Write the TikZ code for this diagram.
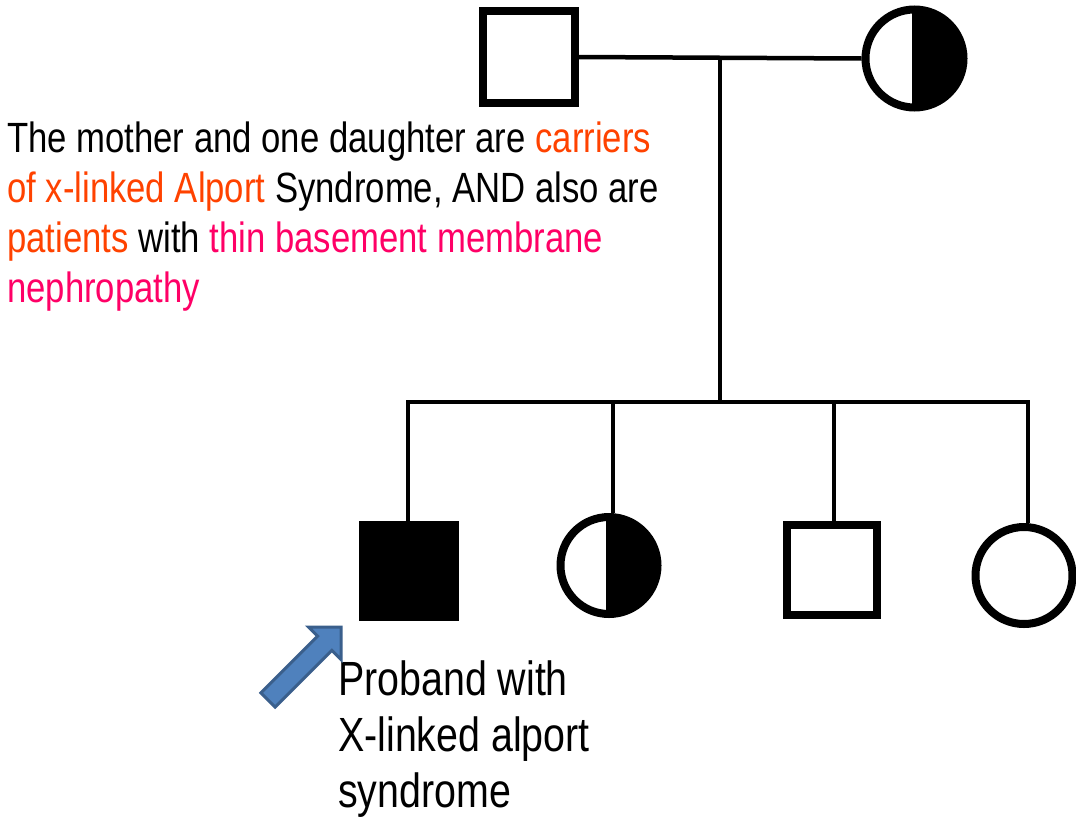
\documentclass[tikz,border=0pt]{standalone}
\usepackage{fontspec}
\setmainfont{Liberation Sans}[FakeStretch=0.82]
\usetikzlibrary{calc}

\definecolor{carrierred}{HTML}{FF4200}
\definecolor{tbmpink}{HTML}{FF0066}
\definecolor{arrowfill}{HTML}{4F81BD}
\definecolor{arrowedge}{HTML}{3A5F8C}

\begin{document}
\begin{tikzpicture}[x=1pt,y=-1pt,
  male/.style={rectangle, draw, line width=8pt, minimum size=#1, inner sep=0pt},
  female/.style={circle, draw, line width=8pt, minimum size=#1, inner sep=0pt},
  affected/.style={fill=black},
  carrier/.style={path picture={\fill ([xshift=-3pt]path picture bounding box.north)
      rectangle (path picture bounding box.south east);}},
  link/.style={line width=4.5pt, line join=miter},
  note/.style={anchor=base west, inner sep=0pt, font=\fontsize{42.3}{50}\selectfont},
  probandnote/.style={anchor=base west, inner sep=0pt, font=\fontsize{48}{56}\selectfont},
  blockarrow/.style={fill=arrowfill, draw=arrowedge, line width=3pt, line join=miter}]

\useasboundingbox (0,0) rectangle (1076,822);

% parents
\node[male=92pt] (father) at (528.5,57) {};
\node[female=98pt, carrier] (mother) at (914.5,58.5) {};

% children
\node[male=92pt, affected] (son1) at (409,571) {};
\node[female=97pt, carrier] (daughter1) at (609,565.5) {};
\node[male=90pt] (son2) at (832,569.5) {};
\node[female=97pt] (daughter2) at (1024,575.5) {};

% marriage line and line of descent
\draw[link] (father.east) -- (mother.west);
\coordinate (couple) at ($(father.east)!(720,59)!(mother.west)$);
\coordinate (sibs) at (couple |- 0,402);
\draw[link] (couple) -- (sibs);

% sibship line with drops to each child
\coordinate (s1) at (408,402);
\coordinate (s2) at (613,402);
\coordinate (s3) at (834,402);
\coordinate (s4) at (1028,402);
\draw[link] (s1 |- son1.north) -- (s1) -- (s4) -- (s4 |- daughter2.north);
\draw[link] (s2) -- (s2 |- daughter1.north);
\draw[link] (s3) -- (s3 |- son2.north);

% explanatory note
\node[note] (l1) at (7,152) {The mother and one daughter are \textcolor{carrierred}{carriers}};
\node[note] (l2) at (7,202) {\textcolor{carrierred}{of x-linked Alport} Syndrome, AND also are};
\node[note] (l3) at (7,252) {\textcolor{carrierred}{patients} with \textcolor{tbmpink}{thin basement membrane}};
\node[note] (l4) at (7,302) {\textcolor{tbmpink}{nephropathy}};

% proband label
\node[probandnote] (p1) at (338,695) {Proband with};
\node[probandnote] (p2) at (338,751) {X-linked alport};
\node[probandnote] (p3) at (338,807) {syndrome};

% block arrow pointing at the proband
\coordinate (tip) at (341,627);
\coordinate (wingA) at (308.4,627);
\coordinate (wingB) at (341,659.6);
\coordinate (neckA) at (317.6,636.2);
\coordinate (neckB) at (331.8,650.4);
\coordinate (tailA) at (260.9,692.9);
\coordinate (tailB) at (275.1,707.1);
\path[blockarrow] (tip) -- (wingB) -- (neckB) -- (tailB) -- (tailA) -- (neckA) -- (wingA) -- cycle;

\end{tikzpicture}
\end{document}
